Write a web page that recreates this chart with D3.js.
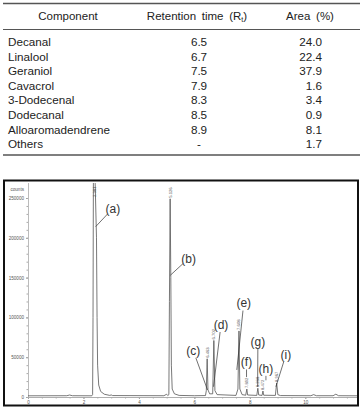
<!DOCTYPE html>
<html lang="en">
<head>
<meta charset="UTF-8">
<title>Essential oil composition and chromatogram</title>
<style>
  body { margin: 0; background: #fff; }
  svg { display: block; font-family: "Liberation Sans", Arial, sans-serif; }
</style>
</head>
<body>
<svg id="chart" width="363" height="408"></svg>
<script src="https://d3js.org/d3.v7.min.js"></script>
<script>
// table data
const components = ["Decanal", "Linalool", "Geraniol", "Cavacrol", "3-Dodecenal", "Dodecanal", "Alloaromadendrene", "Others"];
const retention = ["6.5", "6.7", "7.5", "7.9", "8.3", "8.5", "8.9", "-"];
const areas = ["24.0", "22.4", "37.9", "1.6", "3.4", "0.9", "8.1", "1.7"];

// chromatogram peaks (apex time, apex counts, printed time)
const peakTimes = [2.381, 5.126, 6.461, 6.702, 7.608, 7.892, 8.288, 8.472, 8.967];
const peakCounts = [300000, 249000, 48000, 71000, 83000, 10000, 11000, 7500, 17500];
const peakLabels = ["2.381", "5.126", "6.463", "6.702", "7.608", "7.892", "8.288", "8.472", "8.967"];

// detector trace
const traceTime = [0, 1.40, 1.50, 1.60, 2.30, 2.33, 2.345, 2.36, 2.40, 2.47, 2.49, 2.51, 2.55, 2.62, 2.75, 2.95, 3.00, 3.05,
  4.90, 5.00, 5.04, 5.08, 5.10, 5.126, 5.15, 5.17, 5.20, 5.28, 5.45, 6.00, 6.40, 6.43, 6.461, 6.49, 6.55, 6.66, 6.702, 6.74, 6.82,
  7.50, 7.57, 7.608, 7.64, 7.72, 7.85, 7.892, 7.92, 8.25, 8.288, 8.32, 8.44, 8.472, 8.50, 8.92, 8.967, 9.01, 9.10,
  10.20, 10.30, 10.40, 11.00, 11.10, 11.20, 11.90];
const traceCounts = [1500, 1600, 2500, 1600, 1500, 3000, 100000, 300000, 300000, 200000, 100000, 40000, 15000, 7000, 3500, 2000, 2600, 1800,
  1600, 3500, 1800, 3000, 120000, 249000, 150000, 40000, 10000, 4000, 2000, 1600, 1800, 8000, 48000, 9000, 4000, 4000, 71000, 8000, 3000,
  2000, 10000, 83000, 10000, 3000, 2200, 10000, 2500, 2000, 11000, 2500, 2000, 7500, 2200, 2000, 17500, 3000, 1800,
  1600, 3000, 1600, 1600, 3500, 1600, 1500];

// letter call-outs: text anchor and the point on the trace they point at
const annLetters = ["(a)", "(b)", "(c)", "(d)", "(e)", "(f)", "(g)", "(h)", "(i)"];
const annTextTime = [3.06, 5.79, 5.96, 6.96, 7.78, 7.88, 8.29, 8.58, 9.30];
const annTextCounts = [237000, 174000, 58000, 91000, 118000, 44000, 70000, 36000, 53000];
const annTipTime = [2.44, 5.135, 6.475, 6.69, 7.53, 7.88, 8.28, 8.58, 8.94];
const annTipCounts = [214000, 153000, 8800, 12900, 34000, 25000, 12900, 21000, 12900];

const yMajor = [0, 50000, 100000, 150000, 200000, 250000];
const xMajor = [0, 2, 4, 6, 8, 10];

const svg = d3.select("#chart");

// ---- table ----
const rowStep = 14.6;
svg.append("line").attr("x1", 3).attr("x2", 360).attr("y1", 3.5).attr("y2", 3.5)
  .attr("stroke", "#555").attr("stroke-width", 1.3);
svg.append("line").attr("x1", 3).attr("x2", 360).attr("y1", 29.5).attr("y2", 29.5)
  .attr("stroke", "#555").attr("stroke-width", 1);
svg.append("line").attr("x1", 3).attr("x2", 360).attr("y1", 155).attr("y2", 155)
  .attr("stroke", "#555").attr("stroke-width", 1.3);

const head = svg.append("g").attr("font-size", 11.5).attr("fill", "#222").attr("text-anchor", "middle");
head.append("text").attr("x", 68).attr("y", 19.5).text("Component");
const rt = head.append("text").attr("x", 197).attr("y", 19.5).attr("word-spacing", 2.5);
rt.append("tspan").text("Retention time (R");
rt.append("tspan").attr("font-size", 7).attr("dy", 2).text("t");
rt.append("tspan").attr("dy", -2).text(")");
head.append("text").attr("x", 310).attr("y", 19.5).attr("word-spacing", 2.5).text("Area (%)");

const rows = svg.append("g").attr("font-size", 11.7).attr("fill", "#222");
rows.selectAll("text.comp").data(components).join("text")
  .attr("class", "comp").attr("x", 8).attr("y", (d, i) => 46 + i * rowStep).text(d => d);
rows.selectAll("text.rt").data(retention).join("text")
  .attr("class", "rt").attr("x", 199).attr("text-anchor", "middle")
  .attr("y", (d, i) => 46 + i * rowStep).text(d => d);
rows.selectAll("text.area").data(areas).join("text")
  .attr("class", "area").attr("x", 322).attr("text-anchor", "end")
  .attr("y", (d, i) => 46 + i * rowStep).text(d => d);

// ---- chromatogram ----
const x = d3.scaleLinear().domain([0, 11.9]).range([28, 358]);
const y = d3.scaleLinear().domain([0, 250000]).range([397, 198]);
const plotTop = 183;

svg.append("defs").append("clipPath").attr("id", "plotClip")
  .append("rect").attr("x", 28).attr("y", plotTop).attr("width", 330).attr("height", 397 - plotTop);

// y axis
const yAxis = svg.append("g").attr("transform", "translate(28,0)")
  .call(d3.axisLeft(y).tickValues(yMajor).tickSize(2).tickPadding(2).tickFormat(d3.format("d")));
yAxis.select(".domain").remove();
yAxis.selectAll("line").attr("stroke", "#999");
yAxis.selectAll("text").attr("font-size", 4.6).attr("fill", "#555").attr("font-family", "Liberation Sans, Arial");
svg.append("g").attr("transform", "translate(28,0)")
  .call(d3.axisLeft(y).ticks(25).tickSize(1.5).tickFormat(""))
  .call(g => g.select(".domain").remove())
  .selectAll("line").attr("stroke", "#aaa");
svg.append("line").attr("x1", 28.5).attr("x2", 28.5).attr("y1", plotTop).attr("y2", 397)
  .attr("stroke", "#aaa").attr("stroke-width", 0.8);
svg.append("text").attr("x", 24).attr("y", 190.5).attr("text-anchor", "end")
  .attr("font-size", 4.6).attr("fill", "#555").text("counts");

// x axis
const xAxis = svg.append("g").attr("transform", "translate(0,397)")
  .call(d3.axisBottom(x).tickValues(xMajor).tickSize(2).tickPadding(1.5).tickFormat(d3.format("d")));
xAxis.select(".domain").attr("stroke", "#999").attr("stroke-width", 0.8);
xAxis.selectAll("line").attr("stroke", "#999");
xAxis.selectAll("text").attr("font-size", 4.6).attr("fill", "#555").attr("font-family", "Liberation Sans, Arial");
svg.append("g").attr("transform", "translate(0,397)")
  .call(d3.axisBottom(x).tickValues(d3.range(0, 11.9, 0.5)).tickSize(1.5).tickFormat(""))
  .call(g => g.select(".domain").remove())
  .selectAll("line").attr("stroke", "#aaa");

// trace
const line = d3.line().x(d => x(d[0])).y(d => y(d[1]));
svg.append("path")
  .datum(traceTime.map((t, i) => [t, traceCounts[i]]))
  .attr("clip-path", "url(#plotClip)")
  .attr("d", line)
  .attr("fill", "none").attr("stroke", "#555").attr("stroke-width", 0.8);

// printed retention times above peaks
svg.append("g").selectAll("text").data(peakTimes).join("text")
  .attr("transform", (d, i) => `translate(${x(d) + 1.5},${Math.max(y(peakCounts[i]), y(250000)) - 1}) rotate(-90)`)
  .attr("font-size", 4.2).attr("fill", "#555")
  .text((d, i) => peakLabels[i]);

// call-out letters with leader lines
const ann = svg.append("g");
annLetters.forEach((lab, i) => {
  const cx = x(annTextTime[i]), cy = y(annTextCounts[i]);
  const tx = x(annTipTime[i]), ty = y(annTipCounts[i]);
  const dx = tx - cx, dy = ty - cy, len = Math.hypot(dx, dy);
  ann.append("line")
    .attr("x1", cx + dx / len * 7.5).attr("y1", cy + dy / len * 7.5)
    .attr("x2", tx).attr("y2", ty)
    .attr("stroke", "#333").attr("stroke-width", 0.7);
  ann.append("text").attr("x", cx).attr("y", cy + 4.3)
    .attr("text-anchor", "middle").attr("font-size", 12).attr("fill", "#333")
    .text(lab);
});

// frame
svg.append("rect").attr("x", 4).attr("y", 180.5).attr("width", 354).attr("height", 225)
  .attr("fill", "none").attr("stroke", "#111").attr("stroke-width", 2);
</script>
</body>
</html>
